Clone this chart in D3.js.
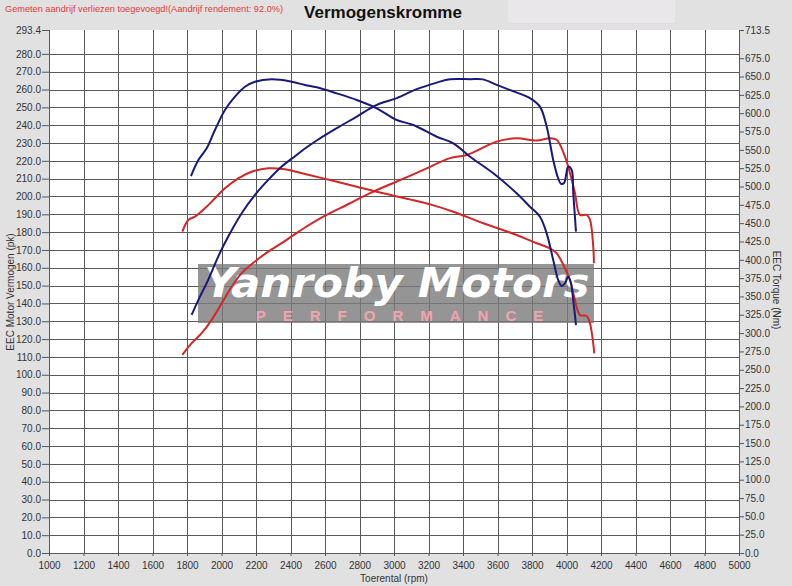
<!DOCTYPE html>
<html>
<head>
<meta charset="utf-8">
<script src="https://cdn.jsdelivr.net/npm/d3@7"></script>
<style>
  body { margin: 0; background: #e1e1e1; }
  svg { display: block; font-family: "Liberation Sans", Arial, sans-serif; }
</style>
</head>
<body>
<div id="chart"></div>
<script>
const width = 792, height = 586
const margin = {top: 30, right: 53, bottom: 33, left: 49}

// rpm ticks and axis ranges
const rpmTicks = d3.range(1000, 5001, 200)
const pkTicks = d3.range(0, 281, 10).concat([293.4])
const nmTicks = d3.range(0, 676, 25).concat([713.5])
const pkMax = 293.4, nmMax = 713.5

// blue run (tuned)
const bluePowerRpm = [1827,1875,1923,1981,2039,2117,2194,2271,2349,2426,2484,2552,2668,2784,2900,3016,3132,3248,3325,3441,3516,3595,3701,3788,3846,3885,3923,3951,3968,3986,4010,4030,4039,4055]
const bluePowerPk  = [133.6,143.8,153.2,166.3,177.5,190.6,200.9,209.3,216.8,222.6,226.9,231.4,238.3,244.8,251.4,255.2,260.2,263.9,265.8,265.8,265.7,262.6,258.7,255.2,250.4,239.2,220.5,210.4,207.1,207.6,216.8,214.9,202,180.3]
const blueTorqueRpm = [1823,1866,1914,1962,2020,2078,2136,2194,2291,2407,2484,2552,2668,2784,2900,3016,3112,3248,3344,3441,3576,3711,3788,3846,3885,3923,3952,3972,3991,4010,4024,4039,4055]
const blueTorqueNm  = [514.3,536.1,552.1,577,604.3,622.5,636.1,643,646.2,643,638.4,635.3,627.1,618,606.7,590.7,583.9,567.9,558.9,540.6,518,490.7,472.4,458.8,436.1,399.7,372.4,364.2,367.9,376.9,370.1,345.1,311]

// red run (stock)
const redPowerRpm = [1773,1827,1885,1943,2001,2059,2117,2194,2271,2349,2426,2484,2590,2745,2861,3016,3170,3325,3421,3595,3711,3827,3904,3943,3991,4020,4049,4078,4117,4136,4155,4159]
const redPowerPk  = [111.1,117.7,123.3,130.8,140.1,149.4,157,163.5,169.1,173.8,178.9,182.6,188.7,196.2,201.9,208.4,214.9,221.5,223.3,230.8,232.7,231.4,232.7,231.8,222.4,213.2,202,189.7,189.7,187,171.9,162.6]
const redTorqueRpm = [1773,1808,1846,1904,1962,2020,2097,2175,2271,2368,2484,2629,2784,2938,3093,3209,3344,3518,3711,3827,3904,3943,3991,4020,4049,4078,4117,4136,4155,4161]
const redTorqueNm  = [438.3,454.3,458.8,470.2,483.9,497.5,511.2,520.2,524.8,523.4,517,508.8,499.7,490.7,482.4,475.6,465.6,449.8,433.8,422.5,415.7,408.9,388.4,372.4,345.1,324.7,323.3,313.4,286.1,272.4]

const svg = d3.select("#chart").append("svg")
  .attr("width", width).attr("height", height)

svg.append("rect").attr("width", width).attr("height", height).attr("fill", "#e1e1e1")
svg.append("rect").attr("x", 508).attr("y", 0).attr("width", 167).attr("height", 23).attr("fill", "#e9e7e9")

var x = d3.scaleLinear().domain([1000, 5000]).range([margin.left, width - margin.right])
var yL = d3.scaleLinear().domain([0, pkMax]).range([height - margin.bottom, margin.top])
var yR = d3.scaleLinear().domain([0, nmMax]).range([height - margin.bottom, margin.top])

// plot background
svg.append("rect")
  .attr("x", x(1000)).attr("y", yL(pkMax))
  .attr("width", x(5000) - x(1000)).attr("height", yL(0) - yL(pkMax))
  .attr("fill", "#ffffff")

// grid
const grid = svg.append("g").attr("stroke", "#5a5a5a").attr("stroke-width", 1)
grid.selectAll(".vg").data(rpmTicks).join("line")
  .attr("x1", d => Math.round(x(d)) + 0.5).attr("x2", d => Math.round(x(d)) + 0.5)
  .attr("y1", yL(pkMax)).attr("y2", yL(0))
grid.selectAll(".hg").data(pkTicks.filter(d => d < 290)).join("line")
  .attr("x1", x(1000)).attr("x2", x(5000))
  .attr("y1", d => Math.round(yL(d)) + 0.5).attr("y2", d => Math.round(yL(d)) + 0.5)

// watermark
const wm = svg.append("g")
wm.append("rect").attr("x", 198).attr("y", 264).attr("width", 396).attr("height", 59)
  .attr("fill", "#7a7a7a").attr("opacity", 0.8)
wm.append("text").attr("x", 397).attr("y", 297).attr("text-anchor", "middle")
  .attr("fill", "#ffffff").attr("font-size", 40).attr("font-weight", "bold")
  .attr("font-family", "'DejaVu Sans', sans-serif")
  .attr("font-style", "italic").attr("textLength", 385).attr("lengthAdjust", "spacingAndGlyphs")
  .text("Yanroby Motors")
wm.append("text").attr("x", 408).attr("y", 321).attr("text-anchor", "middle")
  .attr("fill", "#f2a4ac").attr("font-size", 15).attr("font-weight", "bold")
  .attr("letter-spacing", 17)
  .text("PERFORMANCE")

// curves
function drawLine(xs, ys, yScale, color) {
  const pts = xs.map((r, i) => [r, ys[i]])
  svg.append("path").datum(pts)
    .attr("fill", "none").attr("stroke", color).attr("stroke-width", 2)
    .attr("stroke-linejoin", "round")
    .attr("d", d3.line().x(d => x(d[0])).y(d => yScale(d[1])).curve(d3.curveCatmullRom.alpha(0.5)))
}
drawLine(redPowerRpm, redPowerPk, yL, "#d42626")
drawLine(redTorqueRpm, redTorqueNm, yR, "#d42626")
drawLine(bluePowerRpm, bluePowerPk, yL, "#17197d")
drawLine(blueTorqueRpm, blueTorqueNm, yR, "#17197d")

// axes
const fmt = d3.format(".1f")
const axL = svg.append("g").attr("transform", `translate(${x(1000)},0)`)
  .call(d3.axisLeft(yL).tickValues(pkTicks).tickFormat(fmt).tickSize(7).tickPadding(1))
const axR = svg.append("g").attr("transform", `translate(${x(5000)},0)`)
  .call(d3.axisRight(yR).tickValues(nmTicks).tickFormat(fmt).tickSize(5).tickPadding(1))
const axB = svg.append("g").attr("transform", `translate(0,${yL(0)})`)
  .call(d3.axisBottom(x).tickValues(rpmTicks).tickFormat(d3.format("d")).tickSize(3).tickPadding(6))
;[axL, axR, axB].forEach(a => {
  a.select(".domain").remove()
  a.selectAll(".tick line").attr("stroke", "#555")
  a.selectAll("text").attr("fill", "#333").attr("font-size", 10)
})

// titles
svg.append("text").attr("x", 5).attr("y", 12).attr("fill", "#e03a3a").attr("font-size", 9.5)
  .attr("textLength", 278).attr("lengthAdjust", "spacingAndGlyphs")
  .text("Gemeten aandrijf verliezen toegevoegd!(Aandrijf rendement: 92.0%)")
svg.append("text").attr("x", 383).attr("y", 18).attr("text-anchor", "middle")
  .attr("font-size", 17).attr("font-weight", "bold").attr("fill", "#111")
  .text("Vermogenskromme")
svg.append("text").attr("x", 394).attr("y", 582).attr("text-anchor", "middle")
  .attr("font-size", 10).attr("fill", "#333").text("Toerental (rpm)")
svg.append("text").attr("transform", "translate(14,292) rotate(-90)").attr("text-anchor", "middle")
  .attr("font-size", 10).attr("fill", "#333").text("EEC Motor Vermogen (pk)")
svg.append("text").attr("transform", "translate(773,290) rotate(90)").attr("text-anchor", "middle")
  .attr("font-size", 10).attr("fill", "#333").text("EEC Torque (Nm)")
</script>
</body>
</html>
